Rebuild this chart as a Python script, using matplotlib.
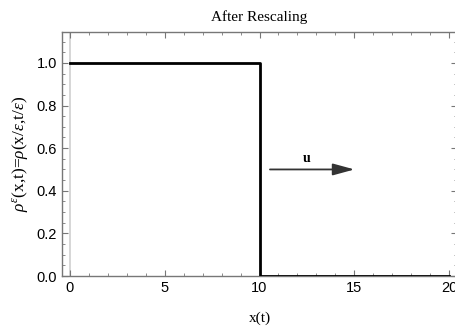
import matplotlib
matplotlib.use('Agg')
import matplotlib.pyplot as plt
from matplotlib.ticker import MultipleLocator

plt.rcParams['mathtext.fontset'] = 'custom'
plt.rcParams['mathtext.rm'] = 'Liberation Serif'
plt.rcParams['mathtext.it'] = 'Liberation Serif:italic'

# step profile after rescaling
x_vals = [0, 10, 10, 20]
rho_vals = [1.0, 1.0, 0.0, 0.0]

# velocity arrow
arrow_start = (10.55, 0.5)
arrow_end = (15.0, 0.5)
arrow_label = 'u'

fig = plt.figure(figsize=(4.56, 3.29), dpi=100)
ax = fig.add_axes([62 / 456, 53 / 329, 395 / 456, 244 / 329])

ax.axvline(0, color='#d0d0d0', lw=1.2, zorder=1)
ax.plot(x_vals, rho_vals, color='black', lw=2, zorder=3)

ax.annotate('', xy=arrow_end, xytext=arrow_start,
            arrowprops=dict(arrowstyle='-|>,head_length=1.1,head_width=0.3',
                            color='#333333', lw=1.3, shrinkA=0, shrinkB=0,
                            mutation_scale=12))
ax.text((arrow_start[0] + arrow_end[0]) / 2 - 0.3, arrow_start[1] + 0.02, arrow_label,
        family='Liberation Serif', fontweight='bold', fontsize=10,
        ha='center', va='bottom')

ax.set_xlim(-0.4, 20.4)
ax.set_ylim(0, 1.145)

ax.xaxis.set_major_locator(MultipleLocator(5))
ax.xaxis.set_minor_locator(MultipleLocator(1))
ax.yaxis.set_major_locator(MultipleLocator(0.2))
ax.yaxis.set_minor_locator(MultipleLocator(0.05))
ax.yaxis.set_major_formatter(plt.FormatStrFormatter('%.1f'))

ax.tick_params(which='both', direction='in', top=True, right=True,
               color='#777777', labelsize=10.5, labelcolor='black')
ax.tick_params(which='major', length=4, width=0.8)
ax.tick_params(which='minor', length=2, width=0.6)
for lab in ax.get_xticklabels() + ax.get_yticklabels():
    lab.set_family('Liberation Sans')
for sp in ax.spines.values():
    sp.set_color('#777777')
    sp.set_linewidth(1.0)

ax.set_title('After Rescaling', family='Liberation Serif', fontsize=11, pad=8)
ax.set_xlabel('x(t)', family='Liberation Serif', fontsize=11, labelpad=12)
ax.set_ylabel(r'$\rho^{\epsilon}$(x,t)=$\rho$(x/$\epsilon$,t/$\epsilon$)',
              family='Liberation Serif', fontsize=12.5, labelpad=5)

fig.savefig('out.png', dpi=100)
